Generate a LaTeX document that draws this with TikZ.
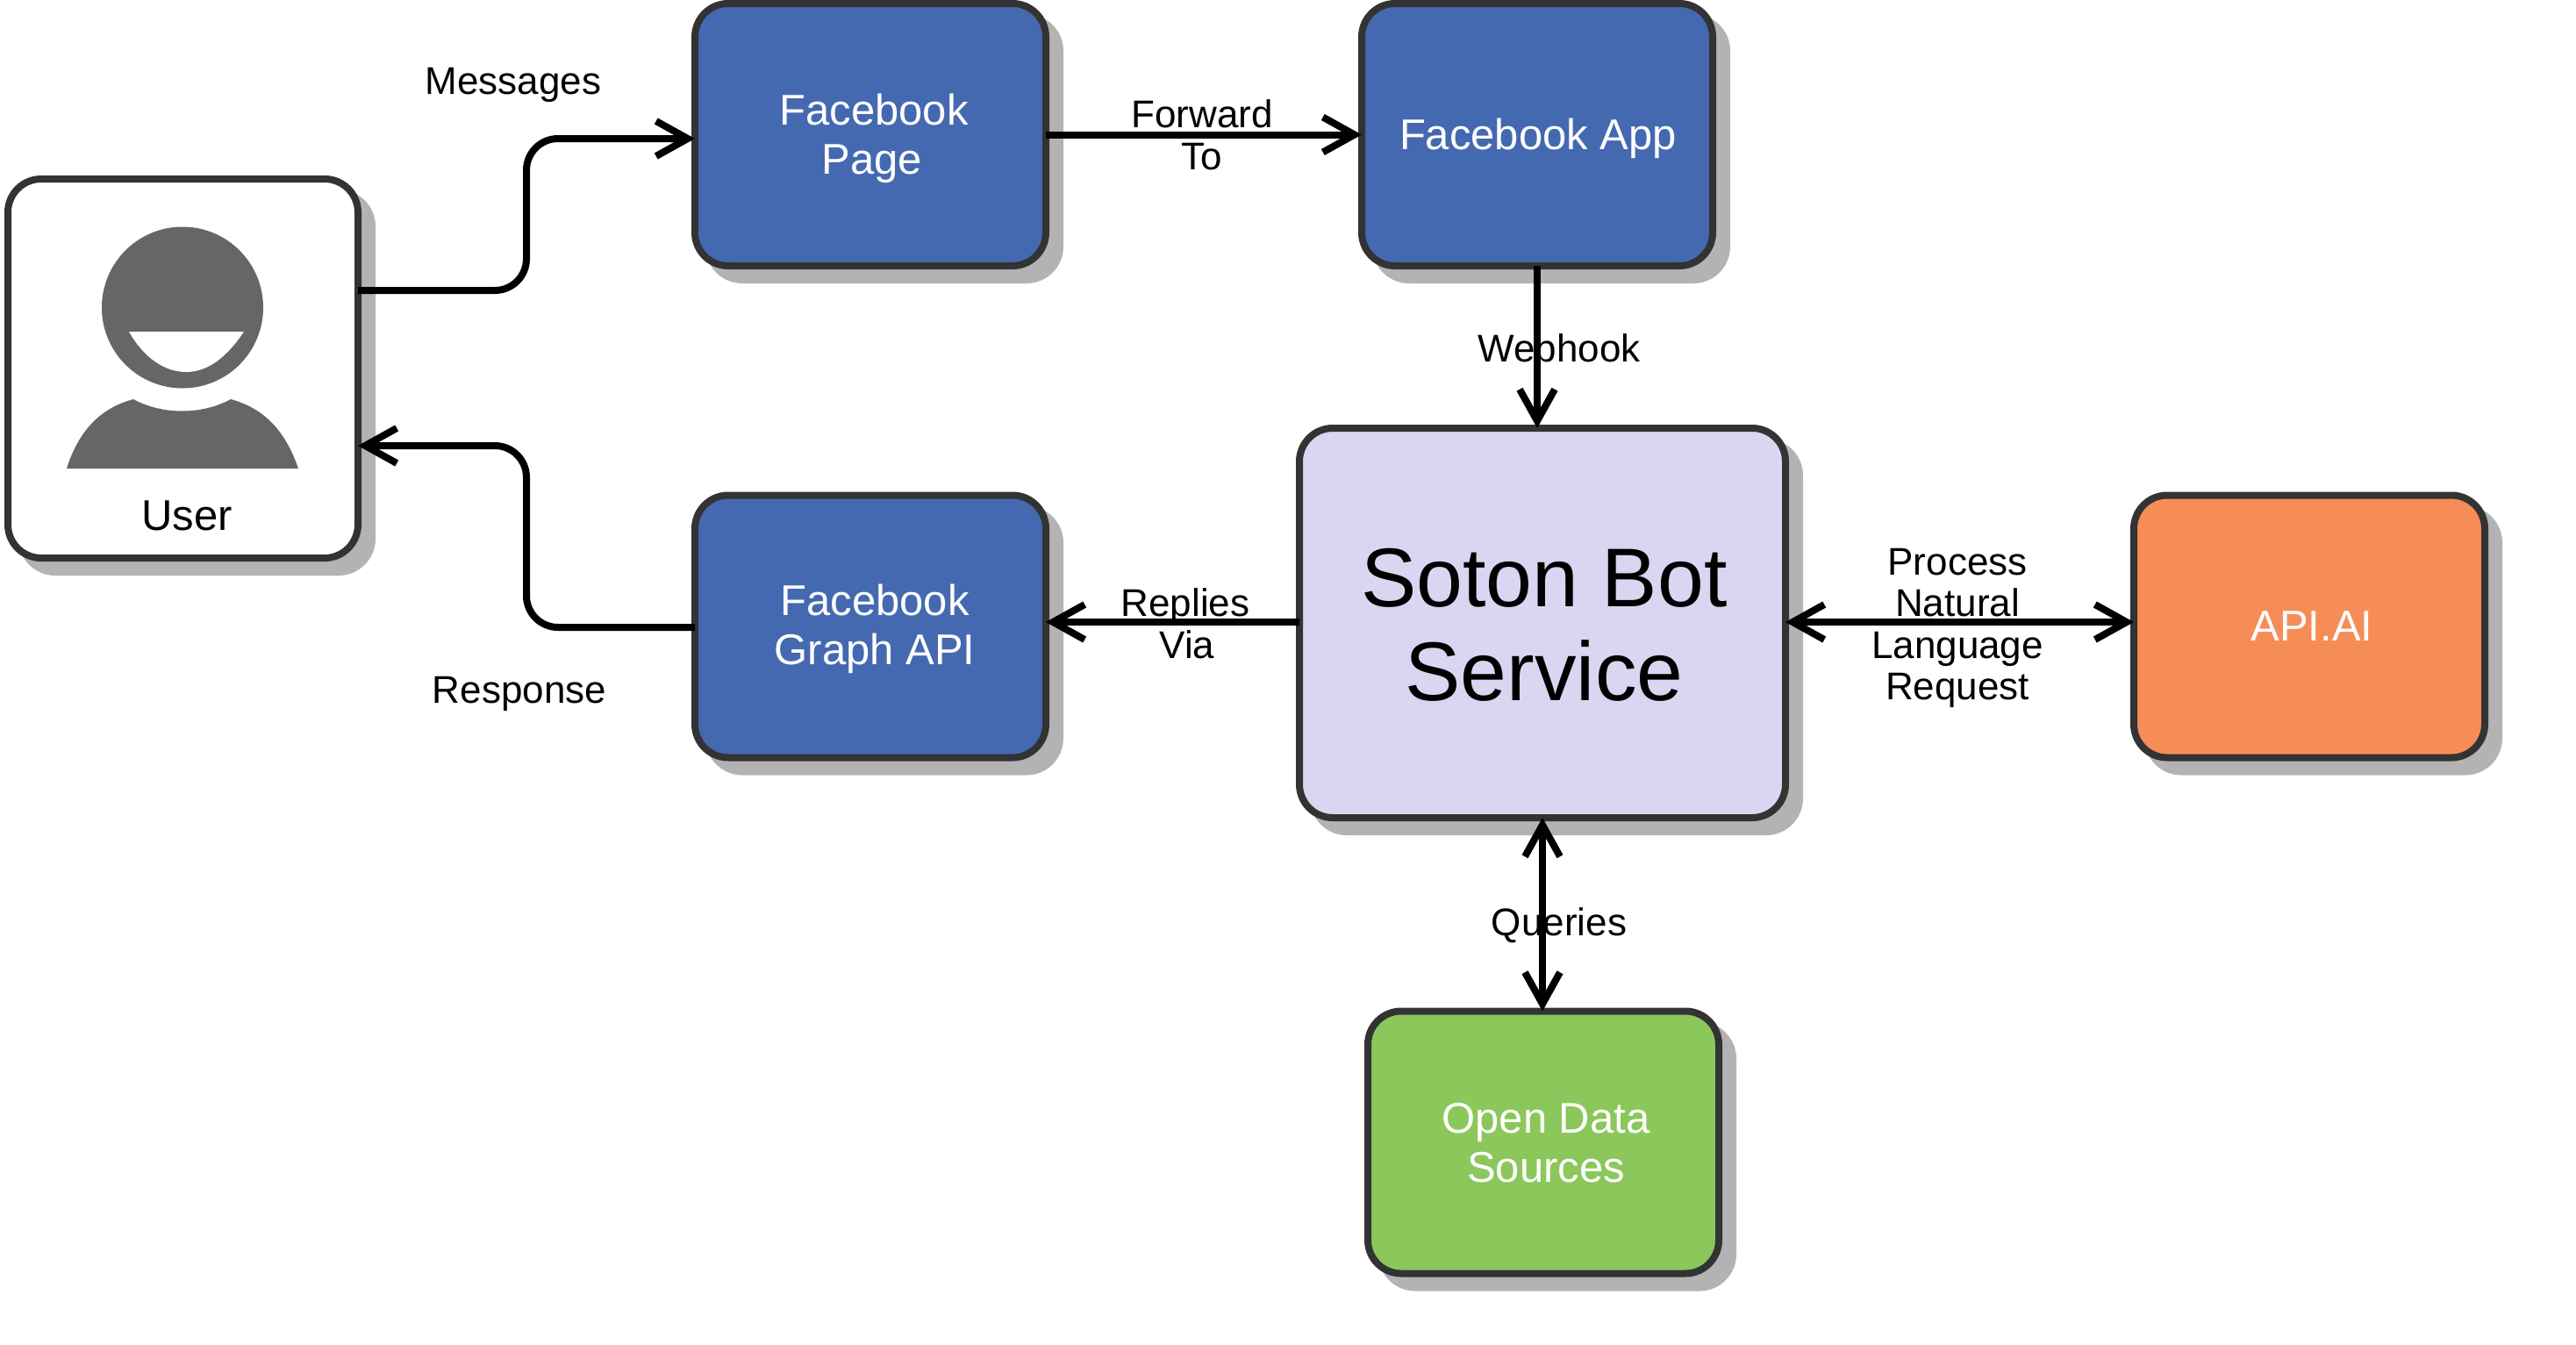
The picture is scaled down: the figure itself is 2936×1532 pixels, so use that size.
\documentclass[tikz,border=0pt]{standalone}
\usepackage{fontspec}
\setmainfont{Liberation Sans}
\usetikzlibrary{arrows.meta,shadows,calc}
\definecolor{fbblue}{HTML}{4469B0}
\definecolor{lilac}{HTML}{DAD5F0}
\definecolor{apiorange}{HTML}{F68D56}
\definecolor{datagreen}{HTML}{8BC75A}
\definecolor{edgegrey}{HTML}{333333}
\definecolor{shadowgrey}{HTML}{B3B3B3}
\definecolor{icongrey}{HTML}{666666}
\tikzset{
  x=1pt,y=-1pt,
  box/.style={draw=edgegrey,line width=8pt,rounded corners=38pt,inner sep=0pt,outer sep=0pt,
    general shadow={shadow xshift=16pt,shadow yshift=-16pt,fill=shadowgrey,draw=shadowgrey}},
  boxtext/.style={align=center,inner sep=0pt,font=\fontsize{49}{56}\selectfont},
  whitetext/.style={boxtext,text=white},
  edgelabel/.style={align=center,inner sep=0pt,font=\fontsize{44}{47.5}\selectfont},
  conn/.style={draw=black,line width=8pt,rounded corners=36pt},
  barb/.tip={Straight Barb[length=36pt,width=40pt,sharp]},
  single/.style={conn,-barb},
  double/.style={conn,barb-barb},
}
\begin{document}
\begin{tikzpicture}
\useasboundingbox (0,0) rectangle (2936,1532);
% boxes
\node[box,fill=white,minimum width=399pt,minimum height=432pt] (user) at (208.5,420) {};
\node[box,fill=fbblue,minimum width=400pt,minimum height=299pt] (fbpage) at (992,153.5) {};
\node[box,fill=fbblue,minimum width=400pt,minimum height=299pt] (fbapp) at (1752,153.5) {};
\node[box,fill=fbblue,minimum width=400pt,minimum height=299pt] (fbgraph) at (992,714) {};
\node[box,fill=lilac,minimum width=554pt,minimum height=444pt] (soton) at (1758,710) {};
\node[box,fill=apiorange,minimum width=400pt,minimum height=299pt] (apiai) at (2632,714) {};
\node[box,fill=datagreen,minimum width=400pt,minimum height=299pt] (opendata) at (1759,1302) {};
% person icon
\fill[icongrey] (208,350.5) circle[radius=92];
\fill[white] (147,378) -- (278,378) .. controls (258,408) and (236,424) .. (212,424) .. controls (188,424) and (164,408) .. (147,378) -- cycle;
\fill[icongrey] (76,534) .. controls (90,490) and (115,465) .. (152,455) .. controls (185,473) and (230,473) .. (263,455) .. controls (300,465) and (325,490) .. (340,534) -- cycle;
% texts in boxes
\node[boxtext] (usertext) at (213,588) {User};
\node[whitetext] (fbpagetext) at (996,158) {Facebook\\Page\hspace*{4pt}};
\node[whitetext] (fbapptext) at (1753,158) {Facebook App};
\node[whitetext] (fbgraphtext) at (997,717) {Facebook\\Graph API};
\node[align=center,inner sep=0pt,font=\fontsize{95}{107}\selectfont] (sotontext) at (1760,712) {Soton Bot\\Service};
\node[whitetext] (apiaitext) at (2635,714) {API.AI};
\node[whitetext] (opendatatext) at (1762,1303) {Open Data\\Sources};
% connectors
\coordinate (msgbend) at (600,158);
\coordinate (respbend) at (600,508);
\draw[single] ([yshift=89pt]user.east) -| (msgbend) -- ([yshift=-4.5pt]fbpage.west);
\draw[single] (fbpage.east) -- (fbapp.west);
\draw[single] (fbapp.south) -- (fbapp.south |- soton.north);
\draw[single] ([yshift=-1pt]fbgraph.west) -| (respbend) -- ([yshift=-88pt]user.east);
\draw[single] ([yshift=1pt]soton.west) -- ([yshift=5pt]fbgraph.east);
\draw[double] ([yshift=1pt]soton.east) -- ([yshift=5pt]apiai.west);
\draw[double] (soton.south) -- (soton.south |- opendata.north);
% edge labels
\node[edgelabel] (msglabel) at (585,97) {Messages};
\node[edgelabel] (resplabel) at (592,791) {Response};
\node[edgelabel] (fwdlabel) at (1370,154) {Forward\\To};
\node[edgelabel] (hooklabel) at (1777,397) {Webhook};
\node[edgelabel] (replylabel) at (1351,711) {Replies\\\hspace*{4pt}Via};
\node[edgelabel] (nlplabel) at (2231,716) {Process\\Natural\\Language\\Request};
\node[edgelabel] (querylabel) at (1777,1055) {Queries};
\end{tikzpicture}
\end{document}
